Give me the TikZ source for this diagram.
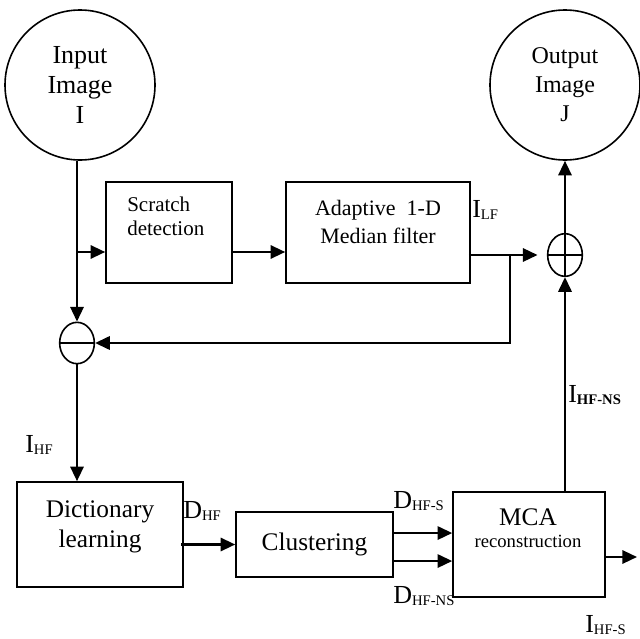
\documentclass[tikz,border=0pt]{standalone}
\usepackage{fontspec}
\setmainfont{Liberation Serif}
\usetikzlibrary{arrows.meta,shapes.geometric,positioning}
\newcommand{\lowsub}[1]{\raisebox{-2pt}{\fontsize{11}{11}\selectfont #1}}
\begin{document}
\begin{tikzpicture}[
        x=0.75pt, y=-0.75pt,
        block/.style={rectangle, draw, line width=1.2pt, inner sep=0pt},
        blocktext/.style={inner sep=0pt, align=center},
        img/.style={circle, draw, line width=1.2pt, minimum size=112.5pt, inner sep=0pt, align=center, font=\fontsize{19.5}{22.5}\selectfont},
        sumop/.style={ellipse, draw, line width=1.2pt, minimum width=26pt, minimum height=31pt, inner sep=0pt},
        arrow/.style={-{Triangle[length=11pt,width=10pt]}, line width=1.7pt},
        sig/.style={inner sep=0pt, anchor=base west, font=\fontsize{19.5}{20}\selectfont}
      ]
        \useasboundingbox (0,0) rectangle (640,639);

        % Images
        \node[img] (input) at (80,85) {Input\\Image\\I};
        \node[img, font=\fontsize{18}{21.75}\selectfont] (output) at (565,85) {Output\\Image\\J};

        % Top row
        \node[block, minimum width=94.5pt, minimum height=75.75pt] (scratch) at (169,232.5) {};
        \node[blocktext, anchor=north west, align=left, font=\fontsize{15.75}{18}\selectfont] (scratchtxt) at (127,197) {Scratch\\detection};
        \node[block, minimum width=138pt, minimum height=75.75pt] (adaptive) at (378,232.5) {};
        \node[blocktext, anchor=north, font=\fontsize{16.5}{21}\selectfont] (adaptivetxt) at (378,200) {Adaptive~~1-D\\Median filter};

        % Sum and difference
        \node[sumop] (minus) at (77,343) {};
        \draw[line width=1.2pt] (minus.west) -- (minus.east);
        \node[sumop, minimum height=32pt] (plus) at (565,255) {};
        \draw[line width=1.2pt] (plus.west) -- (plus.east) (plus.north) -- (plus.south);

        % Bottom row
        \node[block, minimum width=124.5pt, minimum height=78.75pt] (dict) at (100,534.5) {};
        \node[blocktext, anchor=north, font=\fontsize{19}{22.5}\selectfont] (dicttxt) at (100,500) {Dictionary\\learning};
        \node[block, minimum width=117.75pt, minimum height=48.75pt, font=\fontsize{19}{22.5}\selectfont] (clust) at (314.5,544.5) {Clustering};
        \node[block, minimum width=114pt, minimum height=78.75pt] (mca) at (529,544.5) {};
        \node[blocktext, anchor=north, font=\fontsize{19}{18}\selectfont] (mcatxt) at (528,508) {MCA\\[-1pt]{\fontsize{14}{14}\selectfont reconstruction}};

        % Branch points
        \coordinate (split1) at (77,252);
        \coordinate (split2) at (510,255);
        \coordinate (outend) at (637,557);

        % Arrows
        \draw[arrow] (input.south -| minus) -- (minus.north);
        \draw[arrow] (split1) -- (split1 -| scratch.west);
        \draw[arrow] (scratch.east |- split1) -- (adaptive.west |- split1);
        \draw[arrow] ([xshift=-1.5pt]adaptive.east |- plus) -- ([xshift=-7pt]plus.west);
        \draw[arrow] (split2) |- (minus.east);
        \draw[arrow] (plus.north) -- (output.south);
        \draw[arrow] (mca.north -| plus) -- (plus.south);
        \draw[arrow] (minus.south) -- (minus.south |- dict.north);
        \draw[arrow] ([xshift=-2pt]dict.east |- clust) -- (clust.west);
        \draw[arrow] ([yshift=8.6pt]clust.east) -- ([yshift=8.6pt]clust.east -| mca.west);
        \draw[arrow] ([yshift=-12.4pt]clust.east) -- ([yshift=-12.4pt]clust.east -| mca.west);
        \draw[arrow] (mca.east |- outend) -- (outend);

        % Signal labels
        \node[sig] (ilf) at (472,217) {I\lowsub{LF}};
        \node[sig] (ihf) at (25,452) {I\lowsub{HF}};
        \node[sig] (dhf) at (183,518) {D\lowsub{HF}};
        \node[sig] (dhfs) at (393,508) {D\lowsub{HF-S}};
        \node[sig] (dhfns) at (393,603) {D\lowsub{HF-NS}};
        \node[sig] (ihfns) at (568,402) {I\lowsub{\bfseries HF-NS}};
        \node[sig] (ihfs) at (585,632) {I\lowsub{HF-S}};
      \end{tikzpicture}
\end{document}
